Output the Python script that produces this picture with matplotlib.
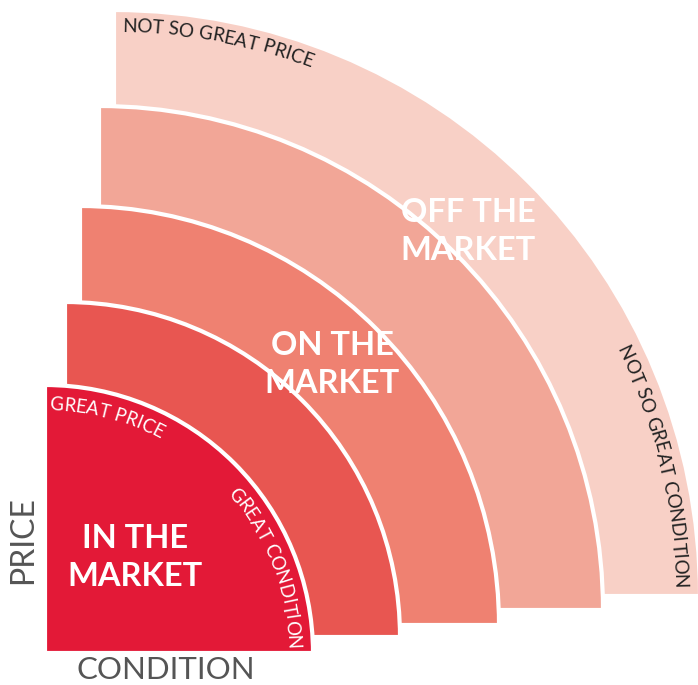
import numpy as np
import matplotlib
matplotlib.use("Agg")
import matplotlib.pyplot as plt
from matplotlib.patches import Wedge
from matplotlib.font_manager import FontProperties, findfont, get_font

W, H, DPI = 698, 685, 100

# bands, drawn from the outside in
band_names = ["", "OFF THE\nMARKET", "ON THE\nMARKET", "", "IN THE\nMARKET"]
band_radius = [586, 504, 419, 335, 268]
band_colors = ["#F8D0C6", "#F2A697", "#EF8171", "#E85651", "#E31937"]

# quarter-circle centres (pixels from the bottom-left)
centers = [(114, 89), (99, 75), (80, 60), (65, 48), (45, 32)]
# baseline of the first label line
label_pos = [None, (468, 463), (332, 330), None, (135, 137)]

FONT = "Lato"


def arc_text(ax, s, center, r, t0, size, color, weight="normal"):
    # lay the characters one by one along a circle, clockwise from t0 (deg)
    prop = FontProperties(family=FONT, size=size, weight=weight)
    font = get_font(findfont(prop))
    font.set_size(size, DPI)
    adv = [font.load_char(ord(c)).linearHoriAdvance / 65536 for c in s]
    pos = np.cumsum(adv) - np.array(adv) / 2
    cx, cy = center
    for c, p in zip(s, pos):
        th = np.radians(t0) - p / r
        ax.text(cx + r * np.cos(th), cy + r * np.sin(th), c,
                rotation=np.degrees(th) - 90, rotation_mode="anchor",
                ha="center", va="baseline", color=color,
                fontproperties=prop)


fig = plt.figure(figsize=(W / DPI, H / DPI), dpi=DPI)
ax = fig.add_axes([0, 0, 1, 1])
ax.set_xlim(0, W)
ax.set_ylim(0, H)
ax.axis("off")

for c, r, col in zip(centers, band_radius, band_colors):
    ax.add_patch(Wedge(c, r, 0, 90, facecolor=col, edgecolor="white", linewidth=3))

for name, p in zip(band_names, label_pos):
    if not name:
        continue
    for k, line in enumerate(name.split("\n")):
        ax.text(p[0], p[1] - k * 38, line, ha="center", va="baseline",
                color="white", fontsize=23.5, fontweight="bold", family=FONT)

arc_text(ax, "GREAT PRICE", centers[4], 243, 89.0, 13.4, "white")
arc_text(ax, "GREAT CONDITION", centers[4], 242, 41.2, 13.4, "white")
arc_text(ax, "NOT SO GREAT PRICE", centers[0], 564, 89.2, 13.6, "#222222")
arc_text(ax, "NOT SO GREAT CONDITION", centers[0], 560, 26.2, 13.6, "#222222")

ax.text(23, 145, "PRICE", rotation=90, ha="center", va="center",
        color="#555555", fontsize=23, family=FONT)
ax.text(166, 6, "CONDITION", ha="center", va="baseline",
        color="#555555", fontsize=22.5, family=FONT)

fig.savefig("out.png", dpi=DPI)
